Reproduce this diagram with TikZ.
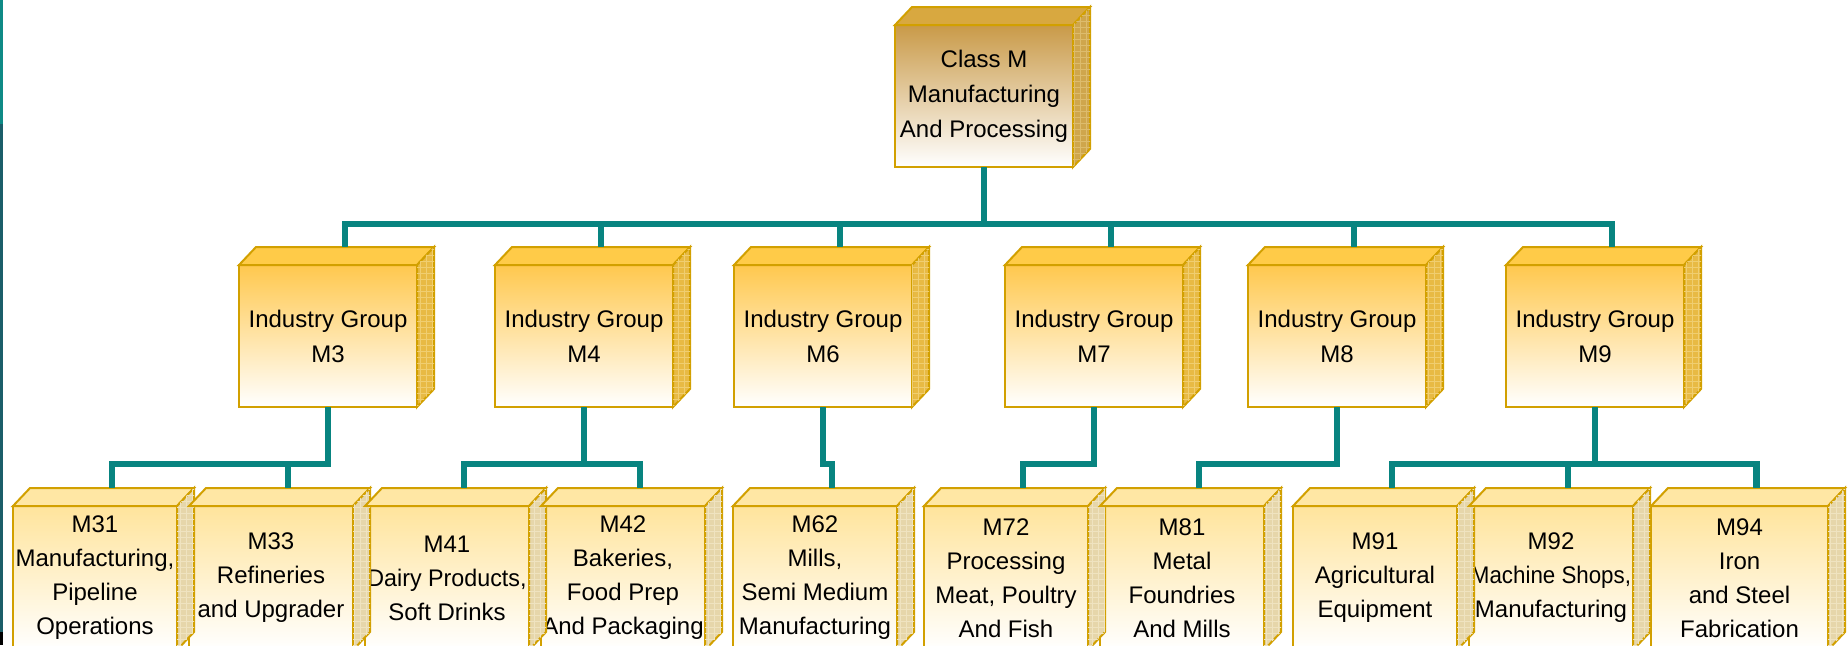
\documentclass[tikz,border=0pt]{standalone}
\usepackage{fontspec}
\setmainfont{Liberation Sans}
\usepackage{graphicx}
\usepackage{tikz}
\usetikzlibrary{calc, patterns}

\definecolor{linkteal}{HTML}{088480}
\definecolor{stripteal}{HTML}{0E8A86}
\definecolor{stripdark}{HTML}{1B5E69}
\definecolor{boxline}{HTML}{D2A000}
% 三层框的颜色
\definecolor{clsfront}{HTML}{C99A48}
\definecolor{clstop}{HTML}{D8A840}
\definecolor{clsside}{HTML}{CFA64C}
\definecolor{clsgrid}{HTML}{DDBC6C}
\definecolor{grpfront}{HTML}{FFC84E}
\definecolor{grptop}{HTML}{FFCB48}
\definecolor{grpside}{HTML}{E8BA44}
\definecolor{grpgrid}{HTML}{F0CE70}
\definecolor{subfront}{HTML}{FFE49C}
\definecolor{subtop}{HTML}{FFE7A4}
\definecolor{subside}{HTML}{E6D6AA}
\definecolor{subgrid}{HTML}{EFE3C0}

% 立体框的顶面和侧面: {节点}{顶面}{侧面}{网格}
\newcommand{\cubeside}[4]{%
  \draw[draw=boxline, line width=1pt, fill=#2]
    (#1.north west) -- ++(17,-18) -- ($(#1.north east)+(17,-18)$) -- (#1.north east) -- cycle;
  \draw[draw=boxline, line width=1pt, fill=#3, postaction={pattern=grid, pattern color=#4}]
    (#1.north east) -- ++(17,-18) -- ($(#1.south east)+(17,-18)$) -- (#1.south east) -- cycle;
  \coordinate (#1-back) at ($(#1.north)+(17,-18)$);
}
% 放不下的长行,横向压一点
\newcommand{\wideline}[2]{\scalebox{#1}[1]{#2}}

\begin{document}
\begin{tikzpicture}[x=0.5pt, y=-0.5pt,
    link/.style={draw=linkteal, line width=3.3pt},
    cube/.style={draw=boxline, line width=1pt, inner sep=0pt, outer sep=0pt,
      align=center, text=black},
    clsbox/.style={cube, top color=clsfront, bottom color=white,
      minimum width=89pt, minimum height=71pt,
      font=\fontsize{12}{17.5}\selectfont},
    grpbox/.style={cube, top color=grpfront, bottom color=white,
      minimum width=89pt, minimum height=71pt,
      font=\fontsize{12}{17.5}\selectfont},
    subbox/.style={cube, top color=subfront, bottom color=white,
      minimum width=82pt, minimum height=72pt,
      font=\fontsize{12}{17}\selectfont}]
  \useasboundingbox (0,0) rectangle (1848,645);
  \clip (0,0) rectangle (1848,645);

  % 左边的细条
  \fill[stripteal] (0,0) rectangle (3,124);
  \fill[stripdark] (0,124) rectangle (3,632);
  \fill[black] (0,632) rectangle (3,645);

  % 顶层
  \node[clsbox] (cls) at (984,96) {Class M\\Manufacturing\\And Processing};
  \cubeside{cls}{clstop}{clsside}{clsgrid}

  % 行业组
  \node[grpbox] (m3) at (328,336) {Industry Group\\M3};
  \node[grpbox] (m4) at (584,336) {Industry Group\\M4};
  \node[grpbox] (m6) at (823,336) {Industry Group\\M6};
  \node[grpbox] (m7) at (1094,336) {Industry Group\\M7};
  \node[grpbox] (m8) at (1337,336) {Industry Group\\M8};
  \node[grpbox] (m9) at (1595,336) {Industry Group\\M9};
  \foreach \g in {m3,m4,m6,m7,m8,m9}
    \cubeside{\g}{grptop}{grpside}{grpgrid};

  % 子类
  \node[subbox] (m31) at (95,578) {M31\\Manufacturing,\\Pipeline\\Operations};
  \node[subbox] (m33) at (271,578) {M33\\Refineries\\and Upgrader};
  \node[subbox] (m41) at (447,578) {M41\\\wideline{0.97}{Dairy Products,}\\Soft Drinks};
  \node[subbox] (m42) at (623,578) {M42\\Bakeries,\\Food Prep\\And Packaging};
  \node[subbox] (m62) at (815,578) {M62\\Mills,\\Semi Medium\\Manufacturing};
  \node[subbox] (m72) at (1006,578) {M72\\Processing\\Meat, Poultry\\And Fish};
  \node[subbox] (m81) at (1182,578) {M81\\Metal\\Foundries\\And Mills};
  \node[subbox] (m91) at (1375,578) {M91\\Agricultural\\Equipment};
  \node[subbox] (m92) at (1551,578) {M92\\\wideline{0.93}{Machine Shops,}\\Manufacturing};
  \node[subbox, minimum width=88.5pt] (m94) at (1739.5,578) {M94\\Iron\\and Steel\\Fabrication};
  \foreach \s in {m31,m33,m41,m42,m62,m72,m81,m91,m92,m94}
    \cubeside{\s}{subtop}{subside}{subgrid};

  % 连线
  \coordinate (bus1) at (0,224);
  \coordinate (bus2) at (0,464);
  \foreach \g in {m3,m4,m6,m7,m8,m9}
    \draw[link] (cls.south) -- (cls.south |- bus1) -| (\g-back);
  \foreach \a/\b in {m3/m31, m3/m33, m4/m41, m4/m42, m6/m62,
                     m7/m72, m8/m81, m9/m91, m9/m92, m9/m94}
    \draw[link] (\a.south) -- (\a.south |- bus2) -| (\b-back);
\end{tikzpicture}
\end{document}
